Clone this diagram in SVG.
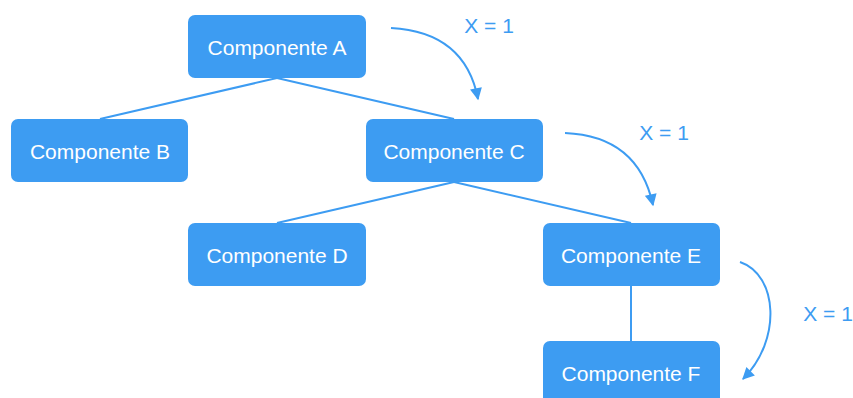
<svg xmlns="http://www.w3.org/2000/svg" width="853" height="398" viewBox="0 0 853 398">
  <style>
    .box { fill: #3d9cf2; }
    .lbl { fill: #ffffff; font-family: "Liberation Sans", Arial, sans-serif; font-size: 21px; text-anchor: middle; dominant-baseline: central; }
    .edge { stroke: #3d9cf2; stroke-width: 2; fill: none; }
    .flow { stroke: #3d9cf2; stroke-width: 2; fill: none; marker-end: url(#arrow); }
    .note { fill: #3d9cf2; font-family: "Liberation Sans", Arial, sans-serif; font-size: 21px; text-anchor: middle; dominant-baseline: central; }
  </style>
  <defs>
    <marker id="arrow" viewBox="0 0 10 10" refX="9" refY="5" markerWidth="7" markerHeight="6" orient="auto" markerUnits="strokeWidth">
      <path d="M0,0 L10,5 L0,10 Z" fill="#3d9cf2"/>
    </marker>
  </defs>
  <rect width="853" height="398" fill="#ffffff"/>

  <g id="connectors">
    <line class="edge" x1="277" y1="78" x2="100" y2="119"/>
    <line class="edge" x1="277" y1="78" x2="454" y2="119"/>
    <line class="edge" x1="454" y1="182" x2="277" y2="223"/>
    <line class="edge" x1="454" y1="182" x2="631" y2="223"/>
    <line class="edge" x1="631" y1="286" x2="631" y2="341"/>
    <path class="flow" d="M391,28 Q465,32 478,99"/>
    <path class="flow" d="M565,133 Q638,136 653,205"/>
    <path class="flow" d="M740,262 C778,275 782,340 743,379"/>
  </g>

  <g id="notes">
    <text class="note" x="489" y="25">X = 1</text>
    <text class="note" x="664" y="132">X = 1</text>
    <text class="note" x="828" y="313">X = 1</text>
  </g>

  <g id="node-a">
    <rect class="box" x="188" y="15" width="178" height="63" rx="7"/>
    <text class="lbl" x="277" y="47">Componente A</text>
  </g>
  <g id="node-b">
    <rect class="box" x="11" y="119" width="177" height="63" rx="7"/>
    <text class="lbl" x="100" y="151">Componente B</text>
  </g>
  <g id="node-c">
    <rect class="box" x="366" y="119" width="177" height="63" rx="7"/>
    <text class="lbl" x="454" y="151">Componente C</text>
  </g>
  <g id="node-d">
    <rect class="box" x="188" y="223" width="178" height="63" rx="7"/>
    <text class="lbl" x="277" y="255">Componente D</text>
  </g>
  <g id="node-e">
    <rect class="box" x="543" y="223" width="177" height="63" rx="7"/>
    <text class="lbl" x="631" y="255">Componente E</text>
  </g>
  <g id="node-f">
    <rect class="box" x="543" y="341" width="177" height="63" rx="7"/>
    <text class="lbl" x="631" y="373">Componente F</text>
  </g>
</svg>
